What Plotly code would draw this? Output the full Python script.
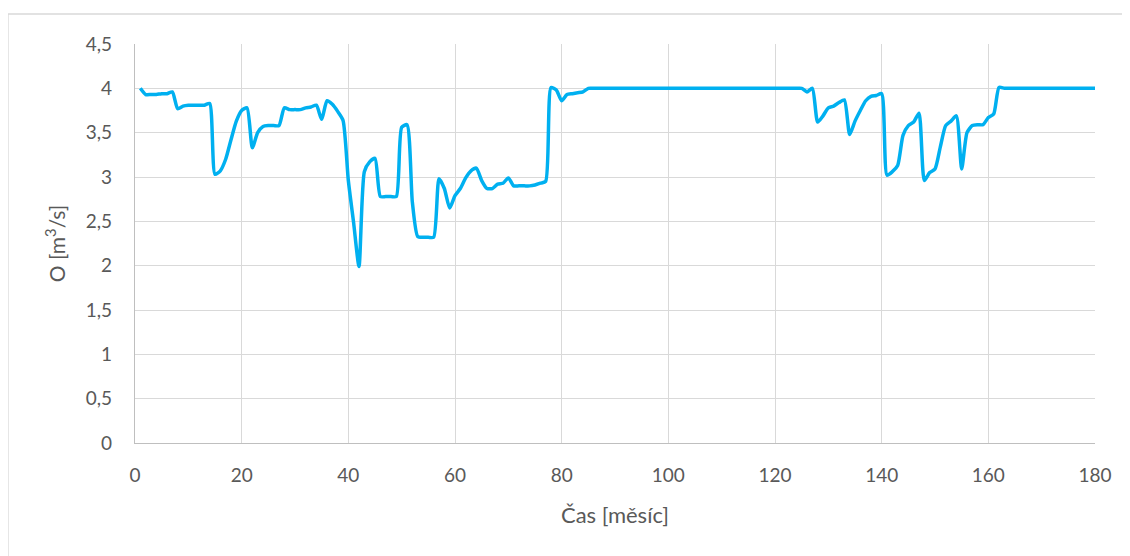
import plotly.graph_objects as go

months = list(range(1, 181))
flow = [
    4.00, 3.93, 3.93, 3.93, 3.94, 3.94, 3.96, 3.77, 3.80, 3.81,   # 1-10
    3.81, 3.81, 3.81, 3.83, 3.03, 3.07, 3.20, 3.42, 3.63, 3.75,   # 11-20
    3.78, 3.33, 3.50, 3.57, 3.58, 3.58, 3.58, 3.78, 3.76, 3.76,   # 21-30
    3.76, 3.78, 3.79, 3.81, 3.65, 3.86, 3.82, 3.74, 3.64, 2.96,   # 31-40
    2.48, 1.99, 3.06, 3.17, 3.21, 2.78, 2.78, 2.78, 2.78, 3.56,   # 41-50
    3.59, 2.72, 2.33, 2.32, 2.32, 2.32, 2.98, 2.87, 2.65, 2.79,   # 51-60
    2.87, 2.99, 3.07, 3.10, 2.96, 2.87, 2.87, 2.92, 2.93, 2.99,   # 61-70
    2.90, 2.90, 2.90, 2.90, 2.91, 2.93, 2.95, 4.01, 3.98, 3.86,   # 71-80
    3.93, 3.94, 3.95, 3.96, 4.00, 4.00, 4.00, 4.00, 4.00, 4.00,   # 81-90
    4.00, 4.00, 4.00, 4.00, 4.00, 4.00, 4.00, 4.00, 4.00, 4.00,   # 91-100
    4.00, 4.00, 4.00, 4.00, 4.00, 4.00, 4.00, 4.00, 4.00, 4.00,   # 101-110
    4.00, 4.00, 4.00, 4.00, 4.00, 4.00, 4.00, 4.00, 4.00, 4.00,   # 111-120
    4.00, 4.00, 4.00, 4.00, 4.00, 3.96, 4.00, 3.62, 3.69, 3.78,   # 121-130
    3.80, 3.84, 3.87, 3.48, 3.63, 3.75, 3.86, 3.91, 3.92, 3.94,   # 131-140
    3.02, 3.06, 3.13, 3.47, 3.58, 3.62, 3.72, 2.96, 3.05, 3.09,   # 141-150
    3.34, 3.58, 3.63, 3.69, 3.09, 3.50, 3.58, 3.59, 3.59, 3.67,   # 151-160
    3.71, 4.01, 4.00, 4.00, 4.00, 4.00, 4.00, 4.00, 4.00, 4.00,   # 161-170
    4.00, 4.00, 4.00, 4.00, 4.00, 4.00, 4.00, 4.00, 4.00, 4.00,   # 171-180
]

x_ticks = [0, 20, 40, 60, 80, 100, 120, 140, 160, 180]
y_ticks = [0, 0.5, 1, 1.5, 2, 2.5, 3, 3.5, 4, 4.5]

FONT = "Lato, 'Open Sans', sans-serif"
TICK_COLOR = "#595959"
GRID = "#d9d9d9"

fig = go.Figure()
fig.add_trace(go.Scatter(
    x=months, y=flow, mode="lines",
    line=dict(color="#00B0F0", width=3.5, shape="spline", smoothing=0.6),
    showlegend=False, hoverinfo="x+y",
))

# page body has an 8px margin, so the figure is sized/placed to compensate
W, H = 1122, 548
L, R, T, B = 127, 35, 36, 113
pw, ph = W - L - R, H - T - B

def px_to_paper_x(px):
    return (px - L) / pw

def px_to_paper_y(py):
    return (H - B - py) / ph

fig.add_shape(type="rect", xref="paper", yref="paper",
              x0=px_to_paper_x(0), x1=px_to_paper_x(1140),
              y0=px_to_paper_y(570), y1=px_to_paper_y(6),
              line=dict(color="#d9d9d9", width=1.3), layer="below")

fig.update_layout(
    width=W, height=H,
    margin=dict(l=L, r=R, t=T, b=B),
    paper_bgcolor="white", plot_bgcolor="white",
    separators=", ",
    font=dict(family=FONT, size=19, color=TICK_COLOR),
    xaxis=dict(
        range=[0, 180], tickvals=x_ticks, ticktext=[str(v) for v in x_ticks],
        showgrid=True, gridcolor=GRID, gridwidth=1.3,
        zeroline=False, showline=True, linecolor="#bfbfbf", linewidth=1.3, mirror=False,
        ticks="", ticklabelstandoff=15,
        title=dict(text="Čas [měsíc]", font=dict(family=FONT, size=22, color=TICK_COLOR), standoff=22),
    ),
    yaxis=dict(
        range=[0, 4.5], tickvals=y_ticks,
        ticktext=[("%g" % v).replace(".", ",") for v in y_ticks],
        showgrid=True, gridcolor=GRID, gridwidth=1.3,
        zeroline=False, showline=True, linecolor="#bfbfbf", linewidth=1.3,
        ticks="", ticklabelstandoff=18,
        title=dict(text="O [m<sup>3</sup>/s]", font=dict(family=FONT, size=21, color=TICK_COLOR), standoff=14),
    ),
)

fig.write_html("out.html")
